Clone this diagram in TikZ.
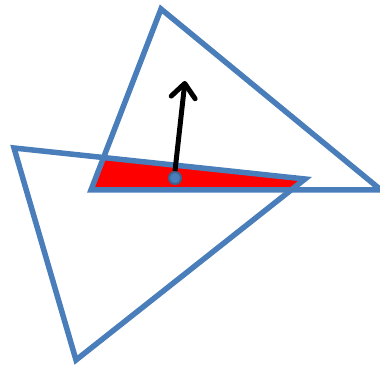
\documentclass[tikz,border=0pt]{standalone}
\usetikzlibrary{arrows.meta}
\definecolor{triblue}{HTML}{4A7EBB}
\definecolor{dotblue}{HTML}{3A6390}
\begin{document}
\begin{tikzpicture}[x=1pt,y=-1pt,
  tri/.style={draw=triblue,line width=5.5pt,line join=miter},
  region/.style={fill=red,draw=none}]
\useasboundingbox (0,0) rectangle (380,366);
\coordinate (a1) at (161,9);
\coordinate (a2) at (381,190);
\coordinate (a3) at (91,190);
\coordinate (b1) at (14,148);
\coordinate (b2) at (305,179);
\coordinate (b3) at (76,360);
\coordinate (r1) at (104,157);
\coordinate (r2) at (302,180);
\coordinate (r3) at (291,190);
\coordinate (r4) at (92,190);
\fill[region] (r1) -- (r2) -- (r3) -- (r4) -- cycle;
\draw[tri] (a1) -- (a2) -- (a3) -- cycle;
\draw[tri] (b1) -- (b2) -- (b3) -- cycle;
\node[circle,fill=triblue,draw=dotblue,line width=2pt,minimum size=12pt,inner sep=0pt] (dot) at (175,178) {};
\coordinate (tip) at (185,81);
\draw[line width=5pt,-{Straight Barb[length=14pt,width=24pt,line cap=round,line join=round]}] (dot.center) ++(0,-7) -- (tip);
\end{tikzpicture}
\end{document}
